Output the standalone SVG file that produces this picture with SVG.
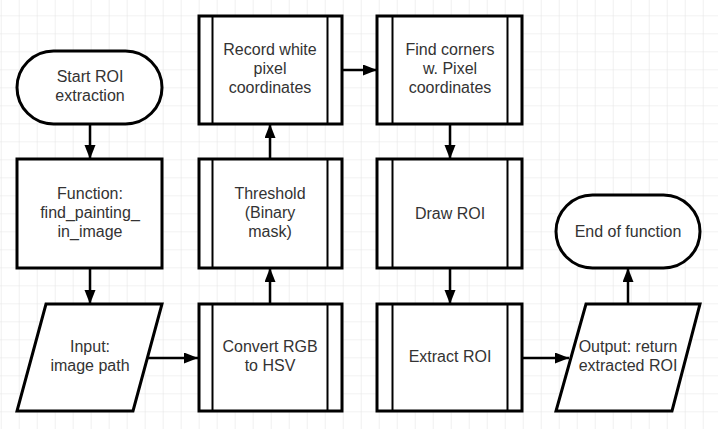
<svg xmlns="http://www.w3.org/2000/svg" width="718" height="429" viewBox="0 0 718 429">
<defs>
<pattern id="grid" x="0.7" y="15.3" width="18" height="18" patternUnits="userSpaceOnUse">
<path d="M0,0 H18 M0,0 V18" fill="none" stroke="#e6e6e6" stroke-width="1.2"/>
</pattern>
<marker id="ah" markerUnits="userSpaceOnUse" markerWidth="15" markerHeight="12" refX="14" refY="5.5" orient="auto">
<path d="M0,0 L14,5.5 L0,11 z" fill="#000"/>
</marker>
</defs>
<style>
.s{fill:#fff;stroke:#000;stroke-width:3}
.i{stroke:#000;stroke-width:2}
.t{font-family:"Liberation Sans",Arial,sans-serif;font-size:16px;fill:#333;text-anchor:middle}
.c{fill:none;stroke:#000;stroke-width:2.5;marker-end:url(#ah)}
</style>
<rect width="718" height="429" fill="#fff"/>
<rect width="718" height="429" fill="url(#grid)"/>
<g id="connectors">
<path class="c" d="M90,124 V159"/>
<path class="c" d="M90,268 V304"/>
<path class="c" d="M148,358 H198"/>
<path class="c" d="M270,304 V268"/>
<path class="c" d="M270,159 V124"/>
<path class="c" d="M342,70 H377"/>
<path class="c" d="M450,124 V159"/>
<path class="c" d="M450,268 V304"/>
<path class="c" d="M522,358 H569"/>
<path class="c" d="M628,304 V268"/>
</g>
<g id="start">
<rect class="s" x="17" y="51" width="145" height="73" rx="36.5"/>
<text class="t" x="90" y="82">Start ROI</text>
<text class="t" x="90" y="101">extraction</text>
</g>
<g id="function">
<rect class="s" x="17" y="159" width="145" height="109"/>
<text class="t" x="90" y="199">Function:</text>
<text class="t" x="90" y="218">find_painting_</text>
<text class="t" x="90" y="237">in_image</text>
</g>
<g id="input">
<polygon class="s" points="46,304 162,304 133,411 17,411"/>
<text class="t" x="90" y="352">Input:</text>
<text class="t" x="90" y="371">image path</text>
</g>
<g id="convert">
<rect class="s" x="199" y="304" width="143" height="107"/>
<line class="i" x1="212.5" y1="304" x2="212.5" y2="411"/>
<line class="i" x1="327.5" y1="304" x2="327.5" y2="411"/>
<text class="t" x="270" y="352">Convert RGB</text>
<text class="t" x="270" y="371">to HSV</text>
</g>
<g id="threshold">
<rect class="s" x="199" y="159" width="143" height="109"/>
<line class="i" x1="212.5" y1="159" x2="212.5" y2="268"/>
<line class="i" x1="327.5" y1="159" x2="327.5" y2="268"/>
<text class="t" x="270" y="199">Threshold</text>
<text class="t" x="270" y="218">(Binary</text>
<text class="t" x="270" y="237">mask)</text>
</g>
<g id="record">
<rect class="s" x="199" y="16" width="143" height="108"/>
<line class="i" x1="212.5" y1="16" x2="212.5" y2="124"/>
<line class="i" x1="327.5" y1="16" x2="327.5" y2="124"/>
<text class="t" x="270" y="55">Record white</text>
<text class="t" x="270" y="74">pixel</text>
<text class="t" x="270" y="93">coordinates</text>
</g>
<g id="corners">
<rect class="s" x="377" y="16" width="145" height="108"/>
<line class="i" x1="392.5" y1="16" x2="392.5" y2="124"/>
<line class="i" x1="507.5" y1="16" x2="507.5" y2="124"/>
<text class="t" x="450" y="55">Find corners</text>
<text class="t" x="450" y="74">w. Pixel</text>
<text class="t" x="450" y="93">coordinates</text>
</g>
<g id="draw">
<rect class="s" x="377" y="159" width="145" height="109"/>
<line class="i" x1="392.5" y1="159" x2="392.5" y2="268"/>
<line class="i" x1="507.5" y1="159" x2="507.5" y2="268"/>
<text class="t" x="450" y="219">Draw ROI</text>
</g>
<g id="extract">
<rect class="s" x="377" y="304" width="145" height="107"/>
<line class="i" x1="392.5" y1="304" x2="392.5" y2="411"/>
<line class="i" x1="507.5" y1="304" x2="507.5" y2="411"/>
<text class="t" x="450" y="362">Extract ROI</text>
</g>
<g id="output">
<polygon class="s" points="586,304 700,304 672,411 556,411"/>
<text class="t" x="628" y="352">Output: return</text>
<text class="t" x="628" y="371">extracted ROI</text>
</g>
<g id="end">
<rect class="s" x="556" y="195" width="144" height="73" rx="36.5"/>
<text class="t" x="628" y="237">End of function</text>
</g>
</svg>
